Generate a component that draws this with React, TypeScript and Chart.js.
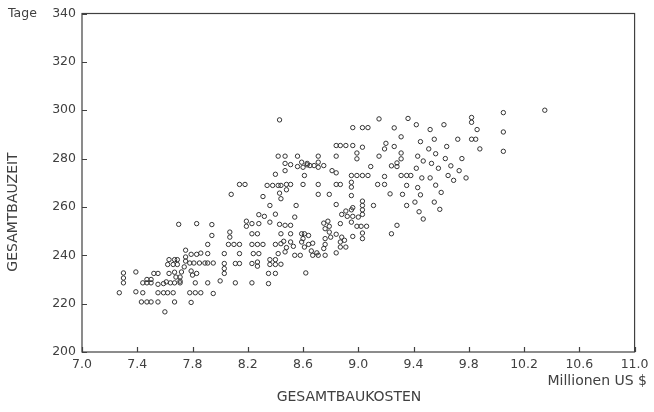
import React, { useEffect, useRef } from "react";
import { Chart, registerables } from "chart.js";

Chart.register(...registerables);

// Gesamtbaukosten (Millionen US $)
const costs = [
  8.43, 8.42, 8.47, 8.56, 8.47, 8.47, 8.51, 8.56, 8.59, 8.60, 8.63, 8.40,
  9.15, 9.36, 8.96, 9.03, 9.07, 9.26, 9.31,
  8.84, 8.87, 8.91, 8.96, 9.03, 9.20, 9.19, 9.26, 9.31,
  8.71, 8.84, 8.99, 8.99, 9.15, 9.31, 9.28, 9.24, 9.28, 9.09,
  8.63, 8.65, 8.68, 8.71, 8.71, 8.75, 8.81, 8.84,
  8.61, 8.95, 8.99, 9.03, 9.07, 9.19, 9.31, 9.35, 9.38,
  8.14, 8.18, 8.34, 8.38, 8.42, 8.44, 8.48, 8.51, 8.48, 8.43, 8.60,
  8.08, 8.31, 8.44, 8.36, 8.55, 8.28, 8.32, 8.40, 8.54,
  8.19, 8.23, 8.28, 8.19, 8.36, 8.43, 8.47, 8.51,
  7.94, 7.94, 8.07, 8.07, 8.23, 8.27, 8.44, 8.51, 8.59, 8.61, 8.60,
  7.91, 8.06, 8.10, 8.14, 8.23, 8.27, 8.31, 8.40,
  8.44, 8.46, 8.48, 8.51, 8.53, 8.59, 8.61, 8.64,
  8.42, 8.47, 8.54, 8.58, 7.91, 8.03, 8.14, 8.24, 8.28,
  7.91, 7.95, 8.03, 8.03, 8.03, 8.11, 8.14, 8.23, 8.27, 8.27,
  8.36, 8.40, 8.36, 8.40, 8.35, 8.40, 8.44, 8.62,
  7.91, 8.00, 8.11, 8.23, 8.35, 7.95,
  7.75, 7.79, 7.83, 7.86, 7.63, 7.67, 7.69, 7.75, 7.75,
  7.78, 7.81, 7.85, 7.89, 7.62, 7.66, 7.69, 7.74,
  7.30, 7.30, 7.30, 7.39, 7.52, 7.55, 7.63, 7.67, 7.72, 7.79, 7.80, 7.83,
  7.44, 7.47, 7.50, 7.47, 7.50, 7.55, 7.59, 7.61, 7.64, 7.67, 7.71,
  7.68, 7.71, 7.71, 7.82, 7.27, 7.39, 7.44,
  7.55, 7.59, 7.62, 7.66, 7.78, 7.82, 7.86,
  7.43, 7.47, 7.50, 7.55, 7.67, 7.79, 7.60,
  7.70, 7.83,
  8.71, 8.84, 8.87, 8.95, 8.95, 9.14, 9.19, 9.35,
  8.71, 8.79, 8.95, 9.23, 9.32,
  8.84, 9.03, 9.03, 9.03, 9.03, 9.11, 9.35,
  8.96, 8.88, 8.91, 8.95, 8.92, 8.96, 9.00,
  8.75, 8.78, 8.79, 8.76, 8.79,
  8.87, 8.95, 8.99, 9.02, 9.06,
  9.28, 9.24, 9.03, 9.03, 8.96,
  8.64, 8.76, 8.80, 8.84, 8.88, 8.90, 8.87, 8.67,
  8.87, 8.91, 8.75, 8.76, 8.66, 8.70, 8.67, 8.71, 8.76, 8.84,
  9.42, 9.45, 9.43, 9.47, 9.42, 9.46, 9.43, 9.45, 9.41, 9.44, 9.47,
  9.52, 9.55, 9.51, 9.56, 9.53, 9.58, 9.52, 9.56, 9.60, 9.55, 9.59,
  9.62, 9.64, 9.63, 9.67, 9.65, 9.69, 9.72, 9.75, 9.73, 9.78,
  9.82, 9.82, 9.82, 9.85, 9.86, 9.88, 10.05, 10.05, 10.05, 10.35,
];

// Gesamtbauzeit (Tage)
const days = [
  296, 281, 281, 281, 278, 275, 277.5, 276.7, 278.5, 276.4, 278, 273.5,
  296.4, 296.6, 292.8, 292.8, 292.8, 292.7, 289,
  285.4, 285.4, 285.4, 285.4, 284.7, 286.3, 284, 285, 282.3,
  281, 281, 282.3, 279.9, 281, 279.9, 278.2, 277, 276.7, 276.7,
  277.4, 277.1, 277.1, 278.5, 276.4, 277.1, 275, 274.1,
  273, 273, 273, 273, 273, 272.6, 273, 273, 273,
  269.3, 269.3, 268.9, 268.9, 268.9, 268.9, 269.3, 269.3, 267.1, 265.7, 269.3,
  265.2, 264.3, 263.4, 260.6, 260.6, 256.8, 256.1, 257, 255.8,
  254.1, 253.1, 253.1, 252, 253.7, 252.8, 252.4, 252.4,
  252.7, 248.2, 249.6, 247.5, 248.9, 248.9, 248.9, 248.9, 248.9, 248.9, 246.9,
  244.5, 244.5, 244.5, 244.5, 244.5, 244.5, 244.5, 244.5,
  244.8, 245.8, 243.2, 245.5, 243.7, 245.5, 243.4, 244.5,
  240.7, 241.4, 240, 240, 240.7, 240.7, 240.7, 240.7, 240.7,
  236.8, 236.8, 236.6, 234.5, 232.5, 236.6, 236.6, 236.6, 237.2, 235.5,
  238.2, 238.2, 236.2, 236.2, 232.5, 232.5, 236.3, 232.7,
  228.6, 229.4, 228.6, 228.6, 228.3, 224.2,
  242.1, 240.4, 240.4, 240.9, 238.2, 238.2, 238.2, 239.3, 237.6,
  236.8, 236.8, 236.8, 236.8, 236.2, 236.2, 236.2, 235.2,
  232.7, 230.6, 228.6, 233.1, 232.5, 232.5, 232.5, 233, 233.1, 233.5, 231.8, 232.5,
  228.6, 228.6, 228.6, 230, 230, 228, 228.3, 229, 228.6, 228.6, 228.6,
  231, 231, 229.3, 228.6, 224.5, 224.9, 224.5,
  224.5, 224.5, 224.5, 224.5, 224.5, 224.5, 224.5,
  220.7, 220.7, 220.7, 220.7, 220.7, 220.5, 216.6,
  252.8, 253.1,
  269.3, 269.3, 269.3, 270.2, 268.2, 269.3, 269.3, 268.9,
  265.2, 265.2, 264.7, 265.4, 265.2,
  261, 262.4, 260.6, 258.8, 256.9, 260.6, 260.6,
  259.7, 256.9, 258.3, 258.8, 256.1, 256.1, 255.8,
  253.3, 254.1, 252, 251, 249.6,
  253.1, 253.7, 252, 252, 252,
  252.4, 248.9, 249.2, 246.9, 247.8,
  248.2, 246.9, 247.5, 248.7, 247.5, 246.2, 245.5, 245,
  243.4, 243.4, 242.8, 244.5, 241.8, 241, 240, 240, 240, 241,
  294, 287, 281, 279, 276, 272, 268, 265, 262, 258, 255,
  292, 288, 284, 282, 278, 276, 272, 269, 266, 262, 259,
  294, 285, 280, 277, 273, 271, 288, 280, 275, 272,
  297, 295, 288, 288, 292, 284, 299, 291, 283, 300,
];

const xTicks = [7.0, 7.4, 7.8, 8.2, 8.6, 9.0, 9.4, 9.8, 10.2, 10.6, 11.0];
const yTicks = [200, 220, 240, 260, 280, 300, 320, 340];
const xTitle = "GESAMTBAUKOSTEN";
const yTitle = "GESAMTBAUZEIT";
const xUnit = "Millionen US $";
const yUnit = "Tage";

const FONT = '"DejaVu Sans", sans-serif';
const INK = "#404040";

export default function App() {
  const ref = useRef<HTMLCanvasElement>(null);

  useEffect(() => {
    if (!ref.current) return;
    const points = costs.map((c, i) => ({ x: c, y: days[i] }));

    const frame = {
      id: "frame",
      afterDraw(chart: any) {
        const { ctx, chartArea: a, scales } = chart;
        const xs = scales.x;
        const ys = scales.y;
        ctx.save();
        ctx.strokeStyle = INK;
        ctx.lineWidth = 1.2;
        ctx.strokeRect(a.left, a.top, a.right - a.left, a.bottom - a.top);
        ctx.beginPath();
        xTicks.forEach((v) => {
          const px = Math.round(xs.getPixelForValue(v)) + 0.5;
          ctx.moveTo(px, a.bottom);
          ctx.lineTo(px, a.bottom - 5);
        });
        yTicks.forEach((v) => {
          const py = Math.round(ys.getPixelForValue(v)) + 0.5;
          ctx.moveTo(a.left, py);
          ctx.lineTo(a.left + 5, py);
        });
        ctx.stroke();

        ctx.fillStyle = INK;
        ctx.textBaseline = "middle";
        ctx.font = `12.5px ${FONT}`;
        ctx.textAlign = "left";
        ctx.fillText(yUnit, 8, ys.getPixelForValue(340));
        ctx.font = `14px ${FONT}`;
        ctx.textAlign = "right";
        ctx.fillText(xUnit, 647, 381);
        ctx.textAlign = "center";
        ctx.fillText(xTitle, 349, 397);
        ctx.translate(13, 212);
        ctx.rotate(-Math.PI / 2);
        ctx.fillText(yTitle, 0, 0);
        ctx.restore();
      },
    };

    const chart = new Chart(ref.current, {
      type: "scatter",
      data: {
        datasets: [
          {
            data: points,
            pointStyle: "circle",
            pointRadius: 2.2,
            pointBorderWidth: 1,
            pointBorderColor: "#333",
            pointBackgroundColor: "rgba(0,0,0,0)",
          },
        ],
      },
      options: {
        animation: false,
        responsive: false,
        maintainAspectRatio: false,
        devicePixelRatio: 1,
        layout: { padding: { left: 0, right: 19, top: 12, bottom: 0 } },
        plugins: {
          legend: { display: false },
          tooltip: { enabled: false },
        },
        scales: {
          x: {
            type: "linear",
            min: 7,
            max: 11,
            afterBuildTicks: (s: any) => {
              s.ticks = xTicks.map((v) => ({ value: v }));
            },
            afterFit: (s: any) => {
              s.height = 60;
            },
            grid: { display: false, drawTicks: false },
            border: { display: false },
            ticks: {
              padding: 5.5,
              color: INK,
              font: { family: FONT, size: 12.5 },
              maxRotation: 0,
              autoSkip: false,
              callback: (v: any) => Number(v).toFixed(1),
            },
          },
          y: {
            type: "linear",
            min: 200,
            max: 340,
            afterBuildTicks: (s: any) => {
              s.ticks = yTicks.map((v) => ({ value: v }));
            },
            afterFit: (s: any) => {
              s.width = 82;
            },
            grid: { display: false, drawTicks: false },
            border: { display: false },
            ticks: {
              padding: 6,
              color: INK,
              font: { family: FONT, size: 12.5 },
              autoSkip: false,
              callback: (v: any) => String(v),
            },
          },
        },
      },
      plugins: [frame],
    });
    return () => chart.destroy();
  }, []);

  return (
    <div style={{ position: "absolute", left: 0, top: 0, width: 654, height: 412, background: "#fff" }}>
      <canvas ref={ref} width={654} height={412} style={{ display: "block", width: 654, height: 412 }} />
    </div>
  );
}
